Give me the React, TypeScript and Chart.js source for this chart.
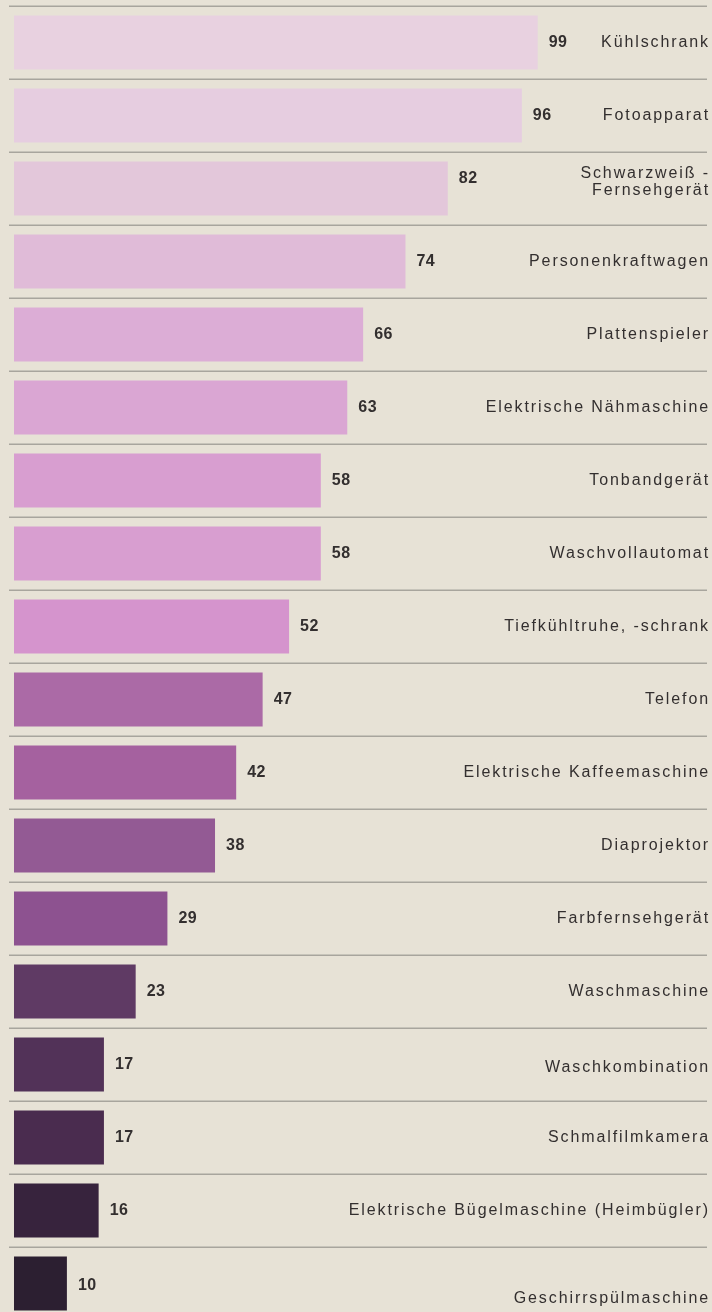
import React, { useEffect, useRef } from "react";
import { Chart, registerables } from "chart.js";

Chart.register(...registerables);

const categories: (string | string[])[] = [
  "Kühlschrank",
  "Fotoapparat",
  ["Schwarzweiß -", "Fernsehgerät"],
  "Personenkraftwagen",
  "Plattenspieler",
  "Elektrische Nähmaschine",
  "Tonbandgerät",
  "Waschvollautomat",
  "Tiefkühltruhe, -schrank",
  "Telefon",
  "Elektrische Kaffeemaschine",
  "Diaprojektor",
  "Farbfernsehgerät",
  "Waschmaschine",
  "Waschkombination",
  "Schmalfilmkamera",
  "Elektrische Bügelmaschine (Heimbügler)",
  "Geschirrspülmaschine",
];

const values: number[] = [99, 96, 82, 74, 66, 63, 58, 58, 52, 47, 42, 38, 29, 23, 17, 17, 16, 10];

const barColors: string[] = [
  "#e8d1e0",
  "#e6cde0",
  "#e3c7da",
  "#e0bbd8",
  "#dcadd6",
  "#daa6d3",
  "#d89ed0",
  "#d89ed0",
  "#d594cd",
  "#ab6aa6",
  "#a5619f",
  "#935a94",
  "#8d5290",
  "#5f3a64",
  "#523258",
  "#4a2c4f",
  "#37233d",
  "#2c1f31",
];

const BG = "#e7e2d6";

const overlayPlugin = {
  id: "overlay",
  beforeDraw(chart: any) {
    const ctx = chart.ctx;
    ctx.save();
    ctx.fillStyle = BG;
    ctx.fillRect(0, 0, chart.width, chart.height);
    const y = chart.scales.y;
    const area = chart.chartArea;
    const n = categories.length;
    const p0 = y.getPixelForValue(0);
    const p1 = y.getPixelForValue(1);
    const pitch = p1 - p0;
    ctx.strokeStyle = "#a8a59d";
    ctx.lineWidth = 1.5;
    for (let i = 0; i <= n; i++) {
      const yy = Math.round(p0 - pitch / 2 + i * pitch) + 0.25;
      ctx.beginPath();
      ctx.moveTo(area.left + 1, yy);
      ctx.lineTo(area.right, yy);
      ctx.stroke();
    }
    ctx.restore();
  },
  afterDatasetsDraw(chart: any) {
    const ctx = chart.ctx;
    const meta = chart.getDatasetMeta(0);
    const n = categories.length;
    ctx.save();
    ctx.textBaseline = "middle";
    meta.data.forEach((bar: any, i: number) => {
      const lbl = categories[i];
      const multi = Array.isArray(lbl);
      const cy = bar.y + (multi ? -10 : 0);
      // value
      ctx.font = "bold 16px 'Liberation Sans', Arial, sans-serif";
      ctx.fillStyle = "#332f2f";
      (ctx as any).letterSpacing = "0.5px";
      ctx.textAlign = "left";
      ctx.fillText(String(values[i]), bar.x + 11, cy + (i === n - 1 ? 2 : 0));
      // label
      ctx.font = "16px 'Liberation Sans', Arial, sans-serif";
      (ctx as any).letterSpacing = "1.9px";
      ctx.textAlign = "right";
      const right = 710;
      if (multi) {
        const lines = lbl as string[];
        const lh = 17;
        const start = cy + 4 - ((lines.length - 1) * lh) / 2;
        lines.forEach((t, k) => ctx.fillText(t, right, start + k * lh));
      } else {
        const shift = i === n - 1 ? 15 : i === n - 4 ? 3 : 0;
        ctx.fillText(lbl as string, right, cy + shift);
      }
    });
    ctx.restore();
  },
};

export default function App() {
  const ref = useRef<HTMLCanvasElement | null>(null);
  useEffect(() => {
    if (!ref.current) return;
    const chart = new Chart(ref.current, {
      type: "bar",
      data: {
        labels: categories as any,
        datasets: [
          {
            data: values,
            backgroundColor: barColors,
            borderWidth: 0,
            categoryPercentage: 0.74,
            barPercentage: 1,
          },
        ],
      },
      options: {
        indexAxis: "y",
        responsive: false,
        maintainAspectRatio: false,
        animation: false,
        layout: { padding: { left: 8, right: 5, top: 6, bottom: 0 } },
        plugins: { legend: { display: false }, tooltip: { enabled: false } },
        scales: {
          x: { type: "linear", min: -1.134, max: 131, display: false },
          y: { type: "category", display: false },
        },
      },
      plugins: [overlayPlugin],
    });
    return () => chart.destroy();
  }, []);
  return (
    <div
      style={{
        position: "fixed",
        left: 0,
        top: 0,
        width: 712,
        height: 1312,
        overflow: "hidden",
        background: BG,
      }}
    >
      <canvas ref={ref} width={712} height={1320} style={{ display: "block" }} />
    </div>
  );
}
